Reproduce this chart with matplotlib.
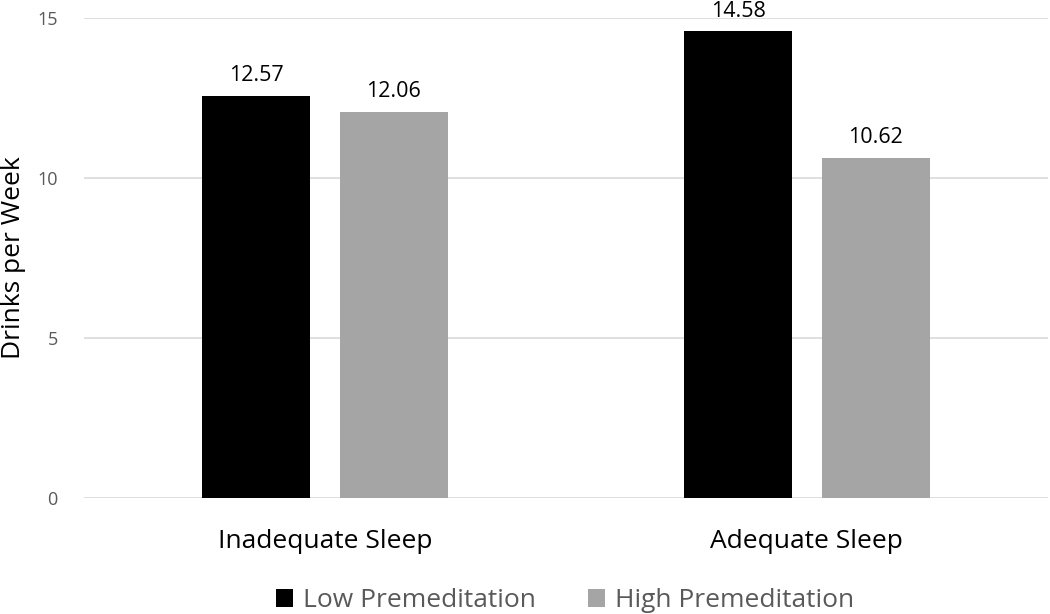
import matplotlib
matplotlib.use("Agg")
import matplotlib.pyplot as plt
import numpy as np

categories = ["Inadequate Sleep", "Adequate Sleep"]
series_names = ["Low Premeditation", "High Premeditation"]
low_values = [12.57, 14.58]
high_values = [12.06, 10.62]
yticks = [0, 5, 10, 15]

plt.rcParams['font.family'] = ['Open Sans', 'DejaVu Sans']

fig = plt.figure(figsize=(10.5, 6.14), dpi=100)
ax = fig.add_axes([0.080, 0.189, 0.918, 0.7817])

x = np.arange(len(categories))
w = 0.224
off = 0.143
b1 = ax.bar(x - off, low_values, w, color="#000000", label=series_names[0], zorder=3)
b2 = ax.bar(x + off, high_values, w, color="#A5A5A5", label=series_names[1], zorder=3)

for bars, vals in ((b1, low_values), (b2, high_values)):
    for r, v in zip(bars, vals):
        ax.annotate(f"{v:.2f}", (r.get_x() + r.get_width() / 2, v), xytext=(0, 7),
                    textcoords="offset points", ha="center", va="bottom",
                    fontsize=15.5, color="#000000")

ax.set_xlim(-0.5, 1.5)
ax.set_ylim(0, 15)
ax.set_yticks(yticks)
ax.set_yticklabels([str(t) for t in yticks], fontsize=13, color="#595959")
ax.set_xticks(x)
ax.set_xticklabels(categories, fontsize=19, color="#000000")
ax.tick_params(axis="both", length=0)
ax.tick_params(axis="y", pad=19)
ax.tick_params(axis="x", pad=22)
ax.yaxis.grid(True, color="#D9D9D9", linewidth=1.2, zorder=0)
ax.set_axisbelow(True)
for s in ax.spines.values():
    s.set_visible(False)
ax.set_ylabel("Drinks per Week", fontsize=19, color="#000000", labelpad=8)

leg = fig.legend(handles=[b1, b2], labels=series_names, loc="lower center",
                 bbox_to_anchor=(0.538, -0.037), ncol=2, frameon=False,
                 fontsize=19, handlelength=0.65, handleheight=0.65,
                 columnspacing=2.0, handletextpad=0.35)
for t in leg.get_texts():
    t.set_color("#595959")

fig.savefig("out.png", dpi=100)
